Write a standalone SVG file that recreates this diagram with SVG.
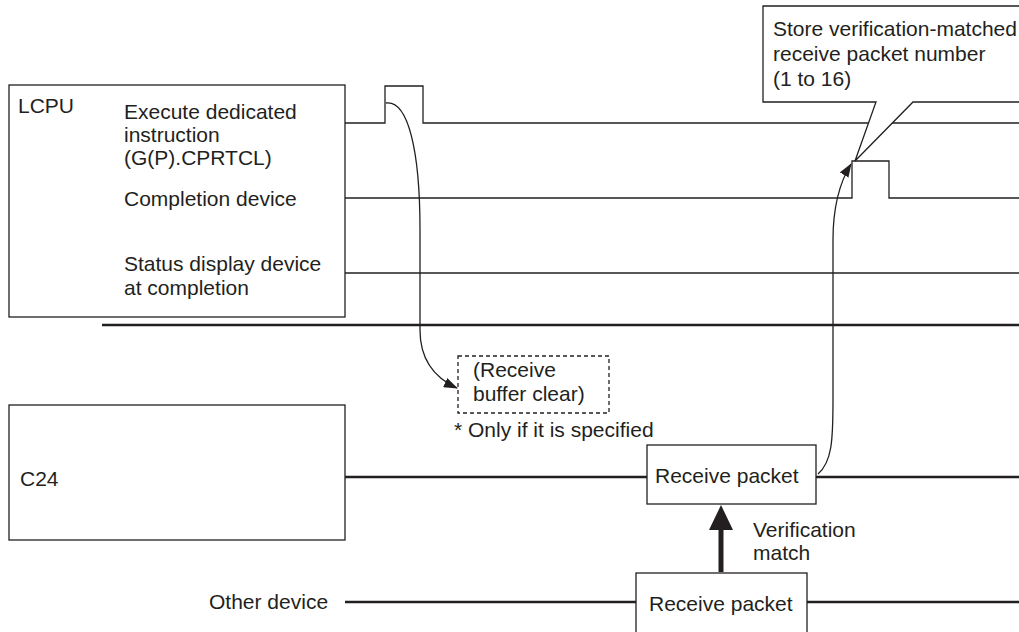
<svg xmlns="http://www.w3.org/2000/svg" width="1019" height="632" viewBox="0 0 1019 632">
<style>
text{font-family:"Liberation Sans",Arial,sans-serif;font-size:21px;fill:#231f20}
.box{fill:#fff;stroke:#231f20;stroke-width:1.3}
.thin{fill:none;stroke:#231f20;stroke-width:1.3}
.thick{fill:none;stroke:#231f20;stroke-width:2.6}
.curve{fill:none;stroke:#231f20;stroke-width:1.3;marker-end:url(#ah)}
</style>
<defs>
<marker id="ah" markerWidth="14" markerHeight="10" refX="13" refY="5" orient="auto" markerUnits="userSpaceOnUse">
<path d="M0,0 L14,5 L0,10 Z" fill="#231f20"/>
</marker>
</defs>
<g id="lcpu">
<rect class="box" x="9" y="85" width="336" height="232"/>
<text x="18" y="113">LCPU</text>
<text x="124" y="119">Execute dedicated</text>
<text x="124" y="142">instruction</text>
<text x="124" y="165">(G(P).CPRTCL)</text>
<text x="124" y="206">Completion device</text>
<text x="124" y="271">Status display device</text>
<text x="124" y="295">at completion</text>
</g>
<g id="signals">
<path class="thin" d="M345,123 H385 V86 H423 V123 H1019"/>
<path class="thin" d="M345,198 H852 V161 H889 V198 H1019"/>
<path class="thin" d="M345,273 H1019"/>
<path class="thick" d="M102,325 H1019"/>
</g>
<g id="callout">
<path class="box" d="M1022,6 H763 V102 H876 L855,161 L913,102 H1022"/>
<text x="773" y="36">Store verification-matched</text>
<text x="773" y="61">receive packet number</text>
<text x="773" y="86">(1 to 16)</text>
</g>
<g id="buffer-clear">
<rect x="458" y="356" width="151" height="57" fill="#fff" stroke="#231f20" stroke-width="1.3" stroke-dasharray="4,3"/>
<text x="473" y="377">(Receive</text>
<text x="473" y="401">buffer clear)</text>
<text x="454" y="437">* Only if it is specified</text>
</g>
<g id="c24">
<rect class="box" x="9" y="405" width="336" height="135"/>
<text x="20" y="486">C24</text>
</g>
<g id="c24-line">
<path class="thick" d="M345,477 H647 M816,477 H1019"/>
</g>
<g id="receive-c24">
<rect class="box" x="647" y="445" width="169" height="59"/>
<text x="655" y="483">Receive packet</text>
</g>
<g id="other-device">
<text x="209" y="609">Other device</text>
<path class="thick" d="M345,602 H636 M807,602 H1019"/>
</g>
<g id="receive-other">
<rect class="box" x="636" y="573" width="171" height="60"/>
<text x="649" y="611">Receive packet</text>
</g>
<g id="connectors">
<path class="curve" d="M386,103 C408,100 420,150 420,230 L420,330 C420,360 435,378 457,388"/>
<path class="curve" d="M818,474 C832,462 833,440 833,400 L833,240 C833,210 838,185 851,164"/>
<line x1="721" y1="572" x2="721" y2="528" stroke="#231f20" stroke-width="5"/>
<path d="M709,530 L733,530 L721,505 Z" fill="#231f20"/>
<text x="753" y="537">Verification</text>
<text x="753" y="560">match</text>
</g>
</svg>
